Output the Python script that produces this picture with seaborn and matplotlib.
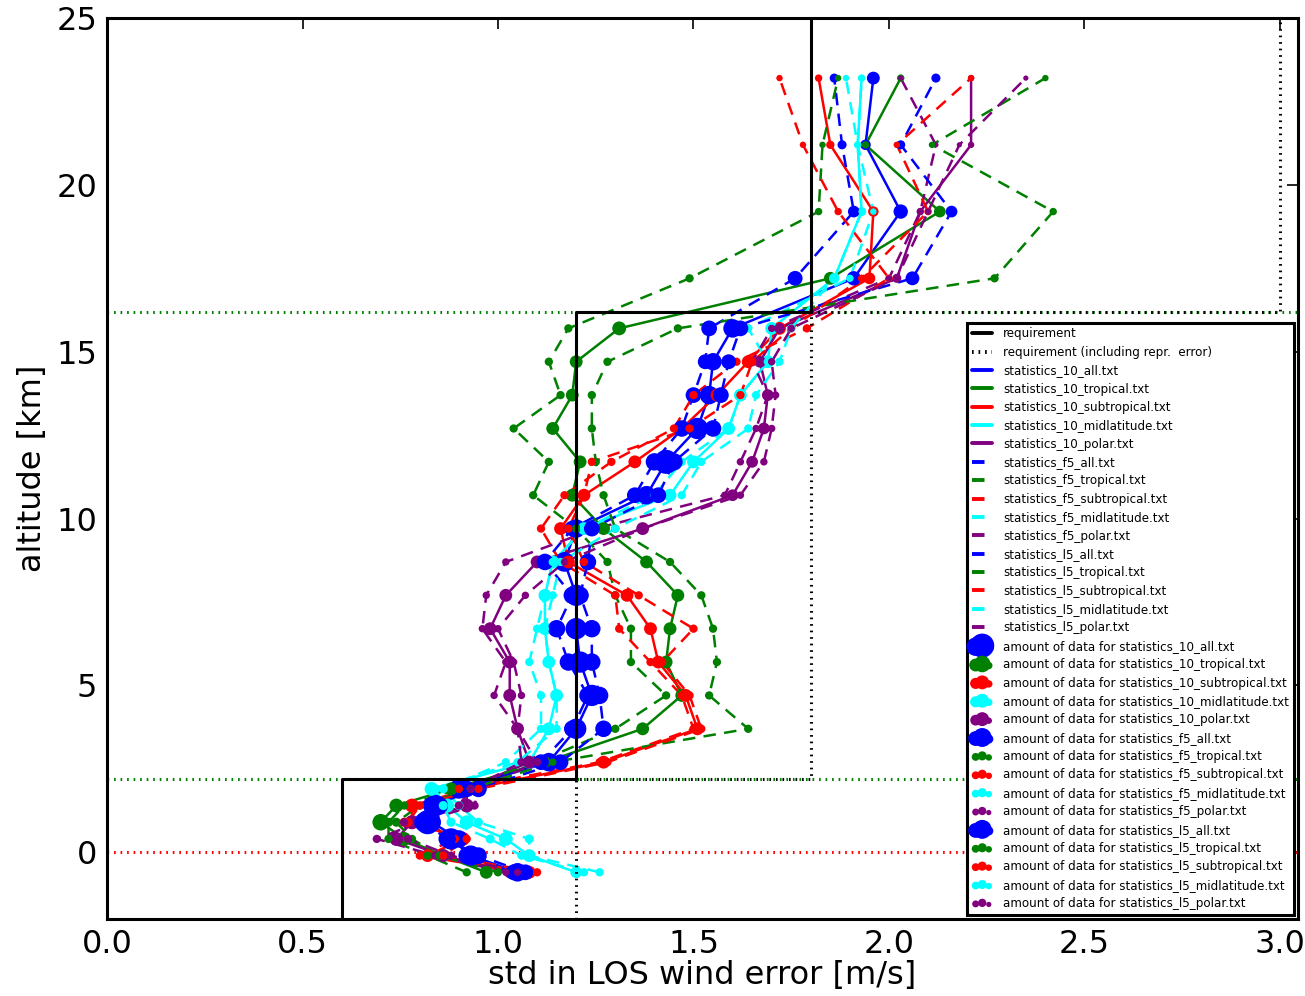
import matplotlib
matplotlib.use("Agg")
import matplotlib.pyplot as plt
import seaborn as sns
from matplotlib.lines import Line2D

# altitude levels of the statistics [km]
altitude = [-0.6, -0.1, 0.4, 0.9, 1.4, 1.9, 2.7, 3.7, 4.7, 5.7, 6.7, 7.7,
            8.7, 9.7, 10.7, 11.7, 12.7, 13.7, 14.7, 15.7, 17.2, 19.2, 21.2, 23.2]

regions = ["all", "tropical", "subtropical", "midlatitude", "polar"]
variants = ["10", "f5", "l5"]

# std in LOS wind error [m/s], one list per statistics file
std_10_all = [1.05, 0.93, 0.88, 0.82, 0.84, 0.90, 1.13, 1.20, 1.24, 1.21, 1.20, 1.20,
              1.17, 1.20, 1.38, 1.43, 1.51, 1.54, 1.55, 1.60, 1.91, 2.03, 1.94, 1.96]
std_10_tropical = [0.97, 0.86, 0.76, 0.70, 0.74, 0.88, 1.12, 1.37, 1.47, 1.43, 1.44, 1.46,
                   1.38, 1.27, 1.19, 1.21, 1.14, 1.19, 1.20, 1.31, 1.85, 2.13, 1.94, 2.03]
std_10_subtropical = [1.08, 0.82, 0.91, 0.78, 0.78, 0.93, 1.27, 1.51, 1.48, 1.41, 1.39, 1.33,
                      1.18, 1.16, 1.22, 1.35, 1.47, 1.56, 1.64, 1.72, 1.95, 1.96, 1.85, 1.82]
std_10_midlatitude = [1.20, 1.08, 1.02, 0.92, 0.87, 0.83, 1.08, 1.13, 1.15, 1.13, 1.12, 1.12,
                      1.14, 1.22, 1.44, 1.50, 1.59, 1.62, 1.69, 1.70, 1.86, 1.93, 1.92, 1.93]
std_10_polar = [1.03, 0.86, 0.74, 0.78, 0.92, 0.92, 1.08, 1.05, 1.03, 1.03, 0.98, 1.02,
                1.10, 1.37, 1.60, 1.65, 1.68, 1.69, 1.67, 1.72, 2.02, 2.08, 2.21, 2.21]

std_f5_all = [1.04, 0.92, 0.90, 0.83, 0.85, 0.92, 1.11, 1.19, 1.23, 1.18, 1.15, 1.19,
              1.12, 1.19, 1.35, 1.40, 1.47, 1.50, 1.53, 1.54, 1.76, 1.91, 1.88, 1.86]
std_f5_tropical = [0.92, 0.82, 0.72, 0.72, 0.76, 0.90, 1.10, 1.30, 1.43, 1.34, 1.34, 1.30,
                   1.28, 1.20, 1.09, 1.13, 1.04, 1.16, 1.13, 1.18, 1.49, 1.82, 1.83, 1.87]
std_f5_subtropical = [1.06, 0.80, 0.89, 0.76, 0.79, 0.90, 1.26, 1.50, 1.47, 1.39, 1.31, 1.30,
                      1.16, 1.11, 1.17, 1.29, 1.45, 1.50, 1.61, 1.79, 2.00, 1.87, 1.78, 1.72]
std_f5_midlatitude = [1.26, 1.08, 1.08, 0.95, 0.90, 0.86, 1.02, 1.11, 1.11, 1.08, 1.10, 1.12,
                      1.14, 1.22, 1.40, 1.47, 1.59, 1.62, 1.69, 1.64, 1.90, 1.96, 1.92, 1.89]
std_f5_polar = [1.02, 0.84, 0.69, 0.80, 0.94, 0.95, 1.10, 1.05, 0.99, 1.02, 0.96, 0.97,
                1.02, 1.25, 1.58, 1.62, 1.66, 1.69, 1.65, 1.70, 2.00, 2.08, 2.12, 2.03]

std_l5_all = [1.07, 0.95, 0.87, 0.81, 0.83, 0.95, 1.16, 1.27, 1.26, 1.24, 1.24, 1.21,
              1.23, 1.24, 1.41, 1.45, 1.55, 1.57, 1.59, 1.62, 2.06, 2.16, 2.03, 2.12]
std_l5_tropical = [1.00, 0.85, 0.78, 0.74, 0.80, 0.93, 1.14, 1.64, 1.54, 1.56, 1.55, 1.52,
                   1.44, 1.30, 1.27, 1.25, 1.24, 1.24, 1.28, 1.46, 2.27, 2.42, 2.11, 2.40]
std_l5_subtropical = [1.10, 0.86, 0.92, 0.77, 0.80, 0.95, 1.28, 1.52, 1.49, 1.42, 1.50, 1.36,
                      1.22, 1.18, 1.22, 1.24, 1.49, 1.62, 1.65, 1.75, 1.93, 2.10, 2.02, 2.21]
std_l5_midlatitude = [1.22, 1.06, 0.98, 0.88, 0.86, 0.84, 1.05, 1.15, 1.15, 1.13, 1.12, 1.14,
                      1.16, 1.30, 1.47, 1.52, 1.64, 1.66, 1.72, 1.75, 1.86, 1.93, 1.92, 1.93]
std_l5_polar = [1.05, 0.88, 0.77, 0.76, 0.90, 0.93, 1.06, 1.05, 1.06, 1.04, 1.00, 1.07,
                1.17, 1.37, 1.62, 1.68, 1.70, 1.71, 1.70, 1.75, 2.02, 2.10, 2.18, 2.35]

# amount of data per level (thousands of observations)
n_10_all = [25, 30, 33, 42, 33, 28, 25, 30, 33, 33, 33, 33,
            28, 25, 25, 42, 33, 25, 22, 25, 15, 15, 8, 12]
n_10_tropical = [12, 12, 14, 20, 14, 12, 10, 12, 12, 12, 12, 12,
                 12, 12, 12, 12, 12, 12, 12, 14, 12, 10, 4, 4]
n_10_subtropical = [12, 12, 14, 14, 14, 12, 12, 12, 12, 12, 12, 12,
                    12, 12, 12, 12, 12, 12, 12, 12, 10, 8, 5, 4]
n_10_midlatitude = [10, 12, 14, 14, 14, 14, 12, 12, 12, 12, 12, 12,
                    12, 12, 12, 12, 12, 12, 12, 12, 8, 6, 4, 4]
n_10_polar = [10, 12, 14, 14, 14, 12, 12, 12, 12, 12, 12, 12,
              12, 12, 10, 10, 10, 10, 10, 8, 6, 4, 3, 3]
n_f5_all = [18, 20, 22, 26, 22, 20, 18, 20, 22, 22, 22, 22,
            20, 18, 18, 22, 20, 18, 16, 18, 16, 10, 6, 6]
n_f5_tropical = [5, 5, 5, 6, 5, 5, 4, 5, 5, 5, 5, 5,
                 5, 5, 5, 5, 5, 5, 5, 5, 5, 4, 3, 3]
n_f5_subtropical = [5, 5, 5, 6, 5, 5, 5, 5, 5, 5, 5, 5,
                    5, 5, 5, 5, 5, 5, 5, 5, 4, 4, 3, 3]
n_f5_midlatitude = [5, 5, 6, 6, 6, 6, 5, 5, 5, 5, 5, 5,
                    5, 5, 5, 5, 5, 5, 5, 5, 4, 3, 3, 3]
n_f5_polar = [4, 5, 5, 5, 5, 5, 5, 4, 4, 4, 4, 4,
              4, 4, 4, 4, 4, 4, 4, 4, 3, 3, 2, 2]
n_l5_all = [18, 20, 22, 26, 22, 20, 18, 20, 22, 22, 22, 22,
            20, 18, 18, 22, 20, 18, 16, 18, 14, 10, 6, 6]
n_l5_tropical = [5, 5, 5, 6, 5, 5, 4, 5, 5, 5, 5, 5,
                 5, 5, 5, 5, 5, 5, 5, 5, 5, 4, 3, 3]
n_l5_subtropical = [5, 5, 5, 6, 5, 5, 5, 5, 5, 5, 5, 5,
                    5, 5, 5, 5, 5, 5, 5, 5, 4, 4, 3, 3]
n_l5_midlatitude = [5, 5, 6, 6, 6, 6, 5, 5, 5, 5, 5, 5,
                    5, 5, 5, 5, 5, 5, 5, 5, 4, 3, 3, 3]
n_l5_polar = [4, 5, 5, 5, 5, 5, 5, 4, 4, 4, 4, 4,
              4, 4, 4, 4, 4, 4, 4, 4, 3, 3, 2, 2]

# requirement per layer (PBL / troposphere / stratosphere)
layer_edges = [-2.0, 2.2, 16.2, 25.0]
req_std = [0.6, 1.2, 1.8]
req_std_repr = [1.2, 1.8, 3.0]
ground = 0.0

std = {
    "10": [std_10_all, std_10_tropical, std_10_subtropical, std_10_midlatitude, std_10_polar],
    "f5": [std_f5_all, std_f5_tropical, std_f5_subtropical, std_f5_midlatitude, std_f5_polar],
    "l5": [std_l5_all, std_l5_tropical, std_l5_subtropical, std_l5_midlatitude, std_l5_polar],
}
amount = {
    "10": [n_10_all, n_10_tropical, n_10_subtropical, n_10_midlatitude, n_10_polar],
    "f5": [n_f5_all, n_f5_tropical, n_f5_subtropical, n_f5_midlatitude, n_f5_polar],
    "l5": [n_l5_all, n_l5_tropical, n_l5_subtropical, n_l5_midlatitude, n_l5_polar],
}

colors = ["blue", "green", "red", "cyan", "purple"]
linestyles = {"10": "-", "f5": (0, (9, 6)), "l5": (0, (9, 6))}
dotted = (0, (1.2, 3.5))

sns.set_style("white")
plt.rcParams["font.family"] = ["DejaVu Sans"]
plt.rcParams["lines.scale_dashes"] = False
for key in ["text.color", "axes.labelcolor", "xtick.color", "ytick.color"]:
    plt.rcParams[key] = "black"

fig = plt.figure(figsize=(13.05, 9.96), dpi=100)
ax = fig.add_axes([0.082, 0.0773, 0.9126, 0.9046])

# requirement step lines
def step(values):
    xs, ys = [], []
    for i, v in enumerate(values):
        xs += [v, v]
        ys += [layer_edges[i], layer_edges[i + 1]]
    return xs, ys

rx, ry = step(req_std)
ax.plot(rx, ry, color="black", lw=2.2, zorder=5)
rx, ry = step(req_std_repr)
ax.plot(rx, ry, color="black", lw=2.2, ls=dotted, zorder=5)
for top in layer_edges[1:-1]:
    ax.axhline(top, color="green", lw=2.2, ls=dotted, zorder=1)
ax.axhline(ground, color="red", lw=2.2, ls=dotted, zorder=1)

line_handles = []
for v in variants:
    for r, c, xs in zip(regions, colors, std[v]):
        sns.lineplot(x=xs, y=altitude, sort=False, estimator=None, color=c,
                     lw=1.8, ls=linestyles[v], ax=ax, zorder=3)
        line_handles.append(Line2D([], [], color=c, lw=2.8, ls=linestyles[v],
                                   label=f"statistics_{v}_{r}.txt"))

scatter_handles = []
for v in variants:
    for r, c, xs, ns in zip(regions, colors, std[v], amount[v]):
        sns.scatterplot(x=xs, y=altitude, size=ns, sizes=(0, 300), size_norm=(0, 42),
                        color=c, linewidth=0, legend=False, ax=ax, zorder=4)
        coll = ax.collections[-1]
        coll.set_label(f"amount of data for statistics_{v}_{r}.txt")
        scatter_handles.append(coll)

req_handles = [
    Line2D([], [], color="black", lw=2.8, label="requirement"),
    Line2D([], [], color="black", lw=2.8, ls=dotted,
           label="requirement (including repr.  error)"),
]

ax.set_xlim(0, 3.046)
ax.set_ylim(layer_edges[0], layer_edges[-1])
ax.set_xticks([0.0, 0.5, 1.0, 1.5, 2.0, 2.5, 3.0])
ax.set_yticks([0, 5, 10, 15, 20, 25])
ax.tick_params(direction="in", length=8, width=1.2, top=True, right=True,
               labelsize=23, pad=7)
for s in ax.spines.values():
    s.set_linewidth(2.2)
    s.set_color("black")
ax.set_xlabel("std in LOS wind error [m/s]", fontsize=23, labelpad=0)
ax.set_ylabel("altitude [km]", fontsize=23, labelpad=6)

leg = ax.legend(handles=req_handles + line_handles + scatter_handles,
                loc="lower right", fontsize=8.6, scatterpoints=3, handlelength=1.7,
                handletextpad=0.9, fancybox=False, framealpha=1, edgecolor="black",
                borderaxespad=0.35, borderpad=0.4, labelspacing=0.45)
leg.get_frame().set_linewidth(2.2)

fig.savefig("out.png", dpi=100)
